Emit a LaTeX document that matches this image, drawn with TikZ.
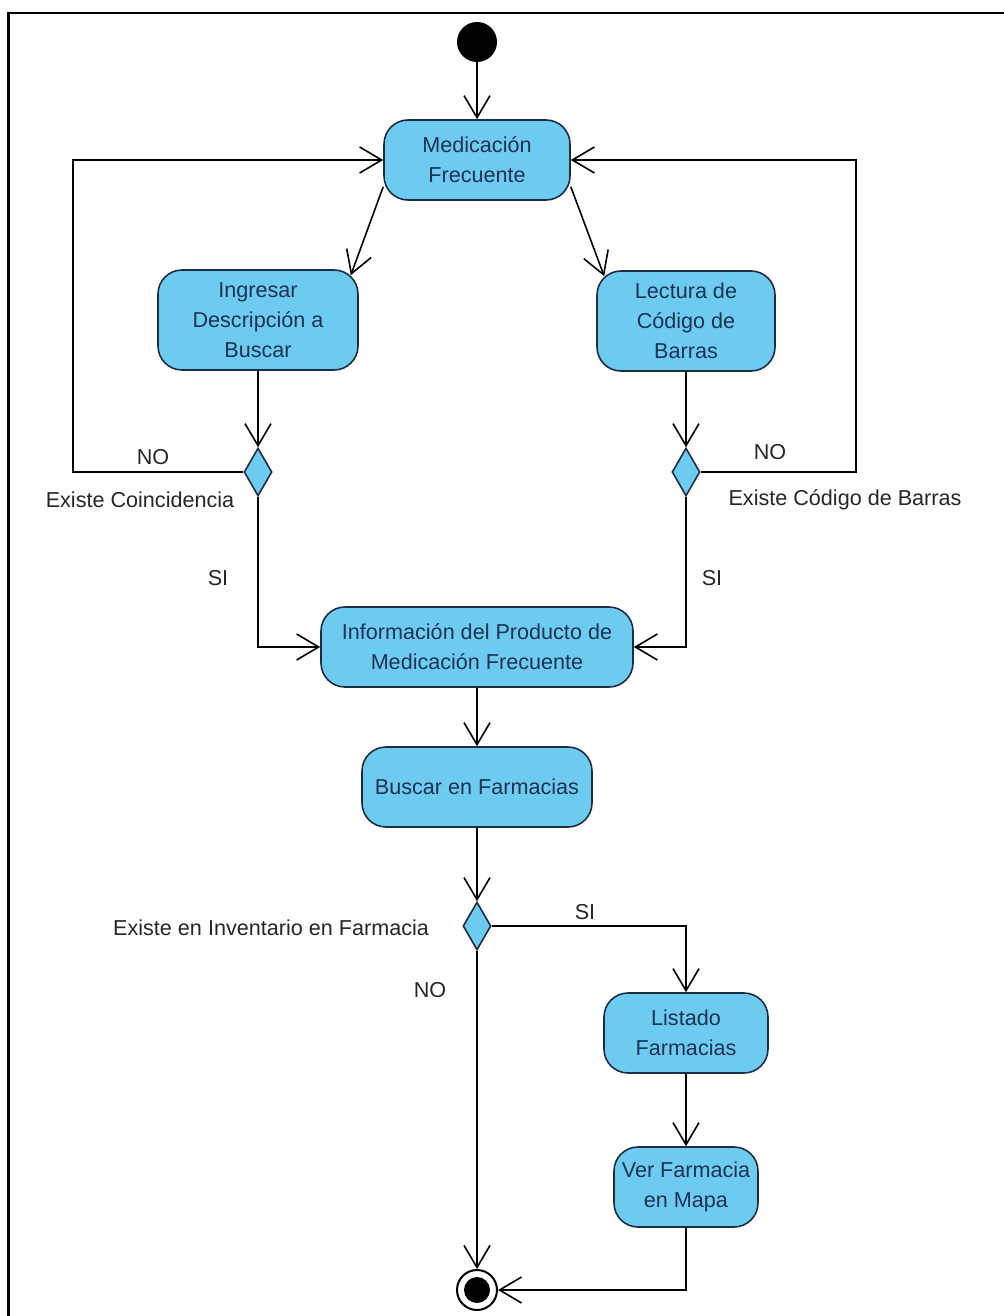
\documentclass[tikz,border=0pt]{standalone}
\usepackage{fontspec}
\setmainfont{Liberation Sans}
\usetikzlibrary{shapes.geometric,arrows.meta}
\definecolor{azulact}{RGB}{110,203,240}
\definecolor{bordeact}{RGB}{30,45,70}
\definecolor{textoact}{RGB}{25,50,85}

\begin{document}
\begin{tikzpicture}[x=0.5pt, y=-0.5pt, font=\fontsize{10.8}{15}\selectfont]

\tikzstyle{actividad}=[draw=bordeact, fill=azulact, rounded corners=12pt, line width=0.8pt, text=textoact, align=center, minimum height=40pt, inner sep=2pt]
\tikzstyle{decision}=[diamond, draw=bordeact, fill=azulact, line width=0.8pt, minimum width=14pt, minimum height=24pt, inner sep=0pt]
\tikzstyle{flujo}=[line width=0.8pt, -{Straight Barb[length=11pt,width=13pt]}]
\tikzstyle{etiqueta}=[text=black!85]

\useasboundingbox (0,0) rectangle (1004,1316);
% marco
\draw[line width=1.2pt] (8.5,1316) -- (8.5,13) -- (1004,13);

\node[circle, fill=black, minimum size=20pt, inner sep=0pt] (inicio) at (477,42) {};
\node[actividad, minimum width=93pt] (medic) at (477,160) {Medicación\\Frecuente};
\node[actividad, minimum width=100pt, minimum height=50pt] (ingresar) at (258,320) {Ingresar\\Descripción a\\Buscar};
\node[actividad, minimum width=89pt, minimum height=50pt] (lectura) at (686,321) {Lectura de\\Código de\\Barras};
\node[decision] (coinc) at (258,472) {};
\node[decision] (codigo) at (686,472) {};
\node[actividad, minimum width=156pt] (info) at (477,647) {Información del Producto de\\Medicación Frecuente};
\node[actividad, minimum width=115pt] (buscar) at (477,787) {Buscar en Farmacias};
\node[decision] (invent) at (477,926) {};
\node[actividad, minimum width=82pt] (listado) at (686,1033) {Listado\\Farmacias};
\node[actividad, minimum width=72pt] (mapa) at (686,1187) {Ver Farmacia\\en Mapa};
\node[circle, draw=black, line width=1pt, minimum size=20pt, inner sep=0pt] (fin) at (477,1290) {};
\fill (fin.center) circle (6.5pt);

\node[etiqueta] (no1) at (153,457) {NO};
\node[etiqueta] (txtcoinc) at (140,500) {Existe Coincidencia};
\node[etiqueta] (no2) at (770,452) {NO};
\node[etiqueta] (txtcodigo) at (845,500) {Existe Código de Barras};
\node[etiqueta] (si1) at (218,578) {SI};
\node[etiqueta] (si2) at (712,578) {SI};
\node[etiqueta, anchor=east] (txtinvent) at (436,928) {Existe en Inventario en Farmacia};
\node[etiqueta] (si3) at (585,912) {SI};
\node[etiqueta] (no3) at (430,990) {NO};

\draw[flujo] (inicio) -- (medic);
\draw[flujo] ([yshift=7pt]medic.south west) -- ([xshift=-4pt,yshift=-3pt]ingresar.north east);
\draw[flujo] ([yshift=7pt]medic.south east) -- ([xshift=4pt,yshift=-3pt]lectura.north west);
\draw[flujo] (ingresar) -- (coinc);
\draw[flujo] (lectura) -- (codigo);
\draw[flujo] (coinc.west) -- ++(-170,0) |- (medic.west);
\draw[flujo] (codigo.east) -- ++(155,0) |- (medic.east);
\draw[flujo] (coinc.south) |- (info.west);
\draw[flujo] (codigo.south) |- (info.east);
\draw[flujo] (info) -- (buscar);
\draw[flujo] (buscar) -- (invent);
\draw[flujo] (invent.east) -| (listado.north);
\draw[flujo] (listado) -- (mapa);
\draw[flujo] (invent) -- (fin);
\draw[flujo] (mapa.south) |- (fin.east);
\end{tikzpicture}
\end{document}
